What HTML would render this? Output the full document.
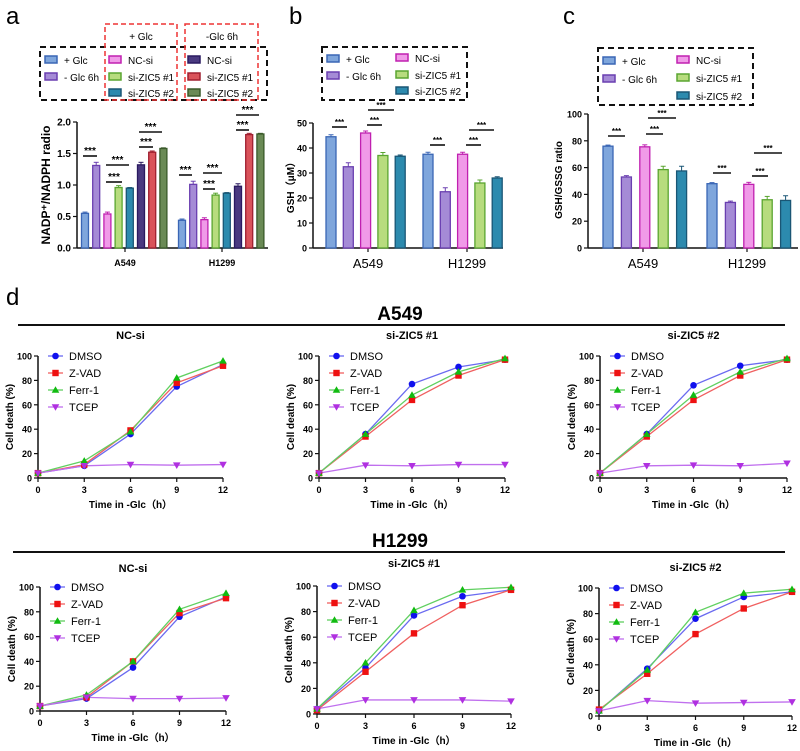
<!DOCTYPE html>
<html><head><meta charset="utf-8"><style>
body{margin:0;background:#fff}
svg{display:block;font-family:"Liberation Sans",Arial,sans-serif}
</style></head><body>
<svg id="fig" width="800" height="751" viewBox="0 0 800 751" xmlns="http://www.w3.org/2000/svg">
<g id="static">
<text x="6" y="24" font-size="24">a</text>
<text x="289" y="24" font-size="24">b</text>
<text x="563" y="24" font-size="24">c</text>
<text x="6" y="305" font-size="24">d</text>
<rect x="40" y="47" width="227" height="53" fill="none" stroke="#111" stroke-width="2" stroke-dasharray="6,4"/>
<rect x="105" y="24" width="72" height="76" fill="none" stroke="#e33" stroke-width="1.5" stroke-dasharray="5,3"/>
<rect x="185" y="24" width="73" height="76" fill="none" stroke="#e33" stroke-width="1.5" stroke-dasharray="5,3"/>
<text x="141" y="40" font-size="10" text-anchor="middle">+ Glc</text>
<text x="222" y="40" font-size="10" text-anchor="middle">-Glc 6h</text>
<rect x="322" y="47" width="145" height="53" fill="none" stroke="#111" stroke-width="2" stroke-dasharray="6,4"/>
<rect x="598" y="48" width="155" height="57" fill="none" stroke="#111" stroke-width="2" stroke-dasharray="6,4"/>
<text x="400" y="320" font-size="19" font-weight="bold" text-anchor="middle">A549</text>
<line x1="18" y1="325" x2="785" y2="325" stroke="#111" stroke-width="2"/>
<text x="400" y="547" font-size="19" font-weight="bold" text-anchor="middle">H1299</text>
<line x1="13" y1="552" x2="785" y2="552" stroke="#111" stroke-width="2"/>
</g>
</svg>
<script>
// ---- bar data ----
const barGroups = ['A549','H1299'];
const aSeries = ['+ Glc','- Glc 6h','NC-si','si-ZIC5 #1','si-ZIC5 #2','NC-si','si-ZIC5 #1','si-ZIC5 #2'];
const aA549 = [0.55,1.31,0.54,0.96,0.95,1.32,1.52,1.58];
const aH1299 = [0.44,1.01,0.45,0.84,0.87,0.98,1.80,1.81];
const aErr = [0.02,0.05,0.03,0.03,0.01,0.04,0.02,0.01];
const aTicks = [0,0.5,1.0,1.5,2.0];
const bSeries = ['+ Glc','- Glc 6h','NC-si','si-ZIC5 #1','si-ZIC5 #2'];
const bA549 = [44.5,32.5,46,37,36.7];
const bH1299 = [37.5,22.5,37.5,26,28];
const bErr = [0.8,1.6,0.8,1.2,0.5];
const bTicks = [0,10,20,30,40,50];
const cA549 = [76,53,75.5,58.5,57.5];
const cH1299 = [48,34,47.5,36,35.5];
const cErr = [0.8,1,1.5,2.5,3.5];
const cTicks = [0,20,40,60,80,100];
// ---- line data ----
const timePoints = [0,3,6,9,12];
const lineTicksY = [0,20,40,60,80,100];
const treatments = ['DMSO','Z-VAD','Ferr-1','TCEP'];
const a549NC_DMSO=[4,10,36,75,93], a549NC_ZVAD=[4,11,39,78,92], a549NC_Ferr=[4,14,38,82,96], a549NC_TCEP=[4,10,11,10.5,11];
const a549S1_DMSO=[4,36,77,91,97], a549S1_ZVAD=[4,34,64,84,97], a549S1_Ferr=[4,36,68,87,98], a549S1_TCEP=[4,10.5,10,11,11];
const a549S2_DMSO=[4,36,76,92,97], a549S2_ZVAD=[4,34,64,84,97], a549S2_Ferr=[4,36,68,87,98], a549S2_TCEP=[4,10,10.5,10,12];
const h1299NC_DMSO=[4,10,35,76,92], h1299NC_ZVAD=[4,11,40,79,91], h1299NC_Ferr=[4,13,40,82,95], h1299NC_TCEP=[4,11,10,10,10.5];
const h1299S1_DMSO=[4,36,77,92,97], h1299S1_ZVAD=[3,33,63,85,97], h1299S1_Ferr=[4,40,81,97,99], h1299S1_TCEP=[4,11,11,11,10];
const h1299S2_DMSO=[4,37,76,93,97], h1299S2_ZVAD=[5,33,64,84,97], h1299S2_Ferr=[4,36,81,96,99], h1299S2_TCEP=[4,12,10,10.5,11];

const NS='http://www.w3.org/2000/svg';
const svg=document.getElementById('fig');
function mk(tag,attrs,parent){const e=document.createElementNS(NS,tag);for(const k in attrs)e.setAttribute(k,attrs[k]);(parent||svg).appendChild(e);return e;}
function txt(x,y,s,size,extra,parent){const t=mk('text',Object.assign({x:x,y:y,'font-size':size},extra||{}),parent);t.textContent=s;return t;}

const fills=['#7fa6dc','#a58bd6','#f09ae8','#b7dc7e','#2c8aae','#4a3a80','#d9535a','#6a8a55'];
const strokes=['#3a66b5','#6a3fb0','#c020b0','#5aa530','#1a5675','#2a1a60','#a02030','#3a5a2a'];

function barPanel(o){
  const g=mk('g',{});
  
  
  const y=v=>o.y0-(v-o.vmin)/(o.vmax-o.vmin)*(o.y0-o.y1);
  mk('line',{x1:o.ax,y1:o.y1,x2:o.ax,y2:o.y0,stroke:'#111','stroke-width':1.5},g);
  mk('line',{x1:o.ax,y1:o.y0,x2:o.xend,y2:o.y0,stroke:'#111','stroke-width':1.5},g);
  o.ticks.forEach(t=>{mk('line',{x1:o.ax-4,y1:y(t),x2:o.ax,y2:y(t),stroke:'#111','stroke-width':1.2},g);
    const l=txt(o.ax-6,y(t)+3.5,o.fmt(t),o.tickSize,{'text-anchor':'end','font-weight':'bold'},g);
    });
  [o.d1,o.d2].forEach((d,gi)=>{
    const xs=o.xs[gi];
    mk('line',{x1:o.catX[gi],y1:o.y0,x2:o.catX[gi],y2:o.y0+4,stroke:'#111','stroke-width':1.2},g);
    const cl=txt(o.catX[gi],o.catY,barGroups[gi],o.catSize,{'text-anchor':'middle','font-weight':o.catBold?'bold':'normal'},g);
    
    d.forEach((v,i)=>{
      const ci=o.colorIdx[i];
      const r=mk('rect',{x:xs+i*o.step-o.bw/2,y:y(v),width:o.bw,height:o.y0-y(v),fill:fills[ci],stroke:strokes[ci],'stroke-width':1.3},g);
      
      const e=o.err[i];const cx=xs+i*o.step;
      mk('line',{x1:cx,y1:y(v),x2:cx,y2:y(v+e),stroke:strokes[ci],'stroke-width':1},g);
      mk('line',{x1:cx-2.5,y1:y(v+e),x2:cx+2.5,y2:y(v+e),stroke:strokes[ci],'stroke-width':1},g);
    });
  });
  const at=txt(o.titleX,o.titleY,o.title,o.titleSize,{'text-anchor':'middle','font-weight':'bold',transform:`rotate(-90 ${o.titleX} ${o.titleY})`},g);
  
  o.sig.forEach(s=>{mk('line',{x1:s[0],y1:s[2],x2:s[1],y2:s[2],stroke:'#111','stroke-width':1.6},g);
    const st=txt((s[0]+s[1])/2,s[2]-2,'***',o.sigSize,{'text-anchor':'middle','font-weight':'bold'},g);
    });
}
barPanel({name:'chart-a-nadp',ax:77,xend:268,y0:248,y1:122,vmin:0,vmax:2,ticks:aTicks,fmt:t=>t.toFixed(1),tickSize:10,
  d1:aA549,d2:aH1299,err:aErr,xs:[85,182],step:11.2,bw:7,colorIdx:[0,1,2,3,4,5,6,7],catX:[125,222],catY:266,catSize:9,catBold:true,
  title:'NADP⁺/NADPH radio',titleX:50,titleY:185,titleSize:12,sigSize:10,
  sig:[[83,97,156],[106,129,165],[106,122,182],[139,153,147],[139,162,132],[179,192,175],[203,222,173],[203,215,189],[236,249,130],[236,259,115]]});
barPanel({name:'chart-b-gsh',ax:313,xend:503,y0:248,y1:123,vmin:0,vmax:50,ticks:bTicks,fmt:t=>String(t),tickSize:9,
  d1:bA549,d2:bH1299,err:bErr,xs:[331,428],step:17.3,bw:10,colorIdx:[0,1,2,3,4],catX:[368,467],catY:268,catSize:13,catBold:false,
  title:'GSH（μM）',titleX:294,titleY:185,titleSize:10,sigSize:8,
  sig:[[332,347,127],[367,382,125],[368,394,110],[430,445,145],[466,481,145],[469,494,130]]});
barPanel({name:'chart-c-gsh-gssg',ax:588,xend:798,y0:248,y1:114,vmin:0,vmax:100,ticks:cTicks,fmt:t=>String(t),tickSize:9,
  d1:cA549,d2:cH1299,err:cErr,xs:[608,712],step:18.4,bw:10,colorIdx:[0,1,2,3,4],catX:[643,747],catY:268,catSize:13,catBold:false,
  title:'GSH/GSSG ratio',titleX:562,titleY:180,titleSize:10,sigSize:8,
  sig:[[608,625,136],[646,663,134],[648,676,118],[713,731,173],[752,768,176],[754,782,153]]});

// legends
function legend(items,parent){items.forEach(it=>{
  const r=mk('rect',{x:it[0],y:it[1]-4,width:12,height:7,fill:fills[it[3]],stroke:strokes[it[3]],'stroke-width':1.5});
  
  const t=txt(it[0]+19,it[1]+4,it[2],it[4]);
  });}
legend([[45,60,'+ Glc',0,10],[45,77,'- Glc 6h',1,10],[109,60,'NC-si',2,10],[109,77,'si-ZIC5 #1',3,10],[109,93,'si-ZIC5 #2',4,10],
  [188,60,'NC-si',5,10],[188,77,'si-ZIC5 #1',6,10],[188,93,'si-ZIC5 #2',7,10]]);
legend([[327,59,'+ Glc',0,10],[327,76,'- Glc 6h',1,10],[396,58,'NC-si',2,10],[396,75,'si-ZIC5 #1',3,10],[396,91,'si-ZIC5 #2',4,10]]);
legend([[603,61,'+ Glc',0,10],[603,79,'- Glc 6h',1,10],[677,60,'NC-si',2,10],[677,78,'si-ZIC5 #1',3,10],[677,96,'si-ZIC5 #2',4,10]]);

// line charts
const lcol=['#1010ee','#ee1111','#11bb11','#b030e0'];
const llcol=['#6a6af0','#f06060','#60d060','#c070ee'];
function marker(kind,x,y,c,g){
  let e;
  if(kind===0)e=mk('circle',{cx:x,cy:y,r:3.3,fill:c},g);
  else if(kind===1)e=mk('rect',{x:x-3.2,y:y-3.2,width:6.4,height:6.4,fill:c},g);
  else if(kind===2)e=mk('polygon',{points:`${x},${y-3.8} ${x-3.8},${y+2.8} ${x+3.8},${y+2.8}`,fill:c},g);
  else e=mk('polygon',{points:`${x},${y+3.8} ${x-3.8},${y-2.8} ${x+3.8},${y-2.8}`,fill:c},g);
  
}
function lineChart(o){
  const g=mk('g',{});
  
  
  const X=t=>o.x0+t/12*(o.x12-o.x0);
  const Y=v=>o.y0-v/100*(o.y0-o.y100);
  mk('line',{x1:o.x0,y1:o.y100,x2:o.x0,y2:o.y0,stroke:'#111','stroke-width':1.5},g);
  mk('line',{x1:o.x0,y1:o.y0,x2:o.x12,y2:o.y0,stroke:'#111','stroke-width':1.5},g);
  lineTicksY.forEach(t=>{mk('line',{x1:o.x0-4,y1:Y(t),x2:o.x0,y2:Y(t),stroke:'#111','stroke-width':1.2},g);
    const l=txt(o.x0-6,Y(t)+3.5,String(t),9,{'text-anchor':'end','font-weight':'bold'},g);
    });
  timePoints.forEach(t=>{mk('line',{x1:X(t),y1:o.y0,x2:X(t),y2:o.y0+4,stroke:'#111','stroke-width':1.2},g);
    const l=txt(X(t),o.y0+15,String(t),9,{'text-anchor':'middle','font-weight':'bold'},g);
    });
  const xt=txt((o.x0+o.x12)/2,o.y0+30,'Time in -Glc（h）',10,{'text-anchor':'middle','font-weight':'bold'},g);
  
  const yc=(o.y0+o.y100)/2, yx=o.x0-25;
  const yt=txt(yx,yc,'Cell death (%)',10,{'text-anchor':'middle','font-weight':'bold',transform:`rotate(-90 ${yx} ${yc})`},g);
  
  const tt=txt((o.x0+o.x12)/2,o.titleY,o.title,11,{'text-anchor':'middle','font-weight':'bold'},g);
  
  o.series.forEach((d,si)=>{
    const pts=d.map((v,i)=>X(timePoints[i])+','+Y(v)).join(' ');
    const p=mk('polyline',{points:pts,fill:'none',stroke:llcol[si],'stroke-width':1.3},g);
    
  });
  o.series.forEach((d,si)=>d.forEach((v,i)=>marker(si,X(timePoints[i]),Y(v),lcol[si],g)));
  treatments.forEach((n,i)=>{const ly=o.y100+i*17;
    mk('line',{x1:o.x0+10,y1:ly,x2:o.x0+25,y2:ly,stroke:llcol[i],'stroke-width':1.3},g);
    marker(i,o.x0+17.5,ly,lcol[i],g);
    const t=txt(o.x0+31,ly+4,n,11,{},g);
    });
}
lineChart({name:'chart-a549-nc-si',title:'NC-si',titleY:339,x0:38,x12:223,y0:478,y100:356,series:[a549NC_DMSO,a549NC_ZVAD,a549NC_Ferr,a549NC_TCEP]});
lineChart({name:'chart-a549-si-zic5-1',title:'si-ZIC5 #1',titleY:339,x0:319,x12:505,y0:478,y100:356,series:[a549S1_DMSO,a549S1_ZVAD,a549S1_Ferr,a549S1_TCEP]});
lineChart({name:'chart-a549-si-zic5-2',title:'si-ZIC5 #2',titleY:339,x0:600,x12:787,y0:478,y100:356,series:[a549S2_DMSO,a549S2_ZVAD,a549S2_Ferr,a549S2_TCEP]});
lineChart({name:'chart-h1299-nc-si',title:'NC-si',titleY:572,x0:40,x12:226,y0:711,y100:587,series:[h1299NC_DMSO,h1299NC_ZVAD,h1299NC_Ferr,h1299NC_TCEP]});
lineChart({name:'chart-h1299-si-zic5-1',title:'si-ZIC5 #1',titleY:567,x0:317,x12:511,y0:714,y100:586,series:[h1299S1_DMSO,h1299S1_ZVAD,h1299S1_Ferr,h1299S1_TCEP]});
lineChart({name:'chart-h1299-si-zic5-2',title:'si-ZIC5 #2',titleY:571,x0:599,x12:792,y0:716,y100:588,series:[h1299S2_DMSO,h1299S2_ZVAD,h1299S2_Ferr,h1299S2_TCEP]});
</script>
</body></html>
